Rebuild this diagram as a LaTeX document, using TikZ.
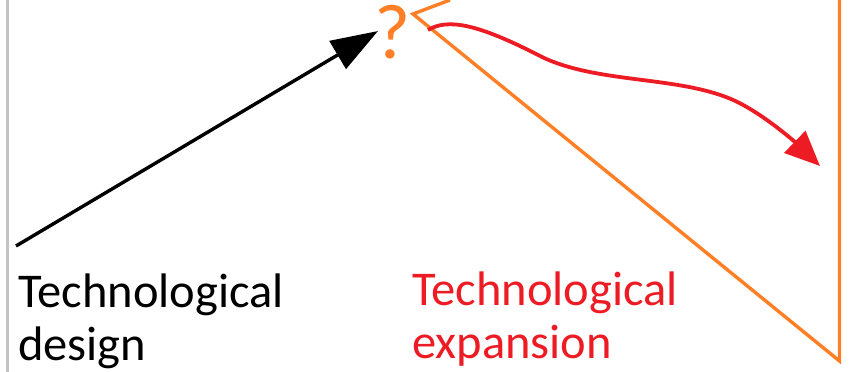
\documentclass[tikz,border=0pt]{standalone}
\usepackage{fontspec}
\setmainfont{Carlito}
\usetikzlibrary{arrows.meta}

\definecolor{paintorange}{RGB}{255,127,39}
\definecolor{paintred}{RGB}{237,28,36}
\definecolor{edgegray}{RGB}{195,195,195}

\tikzset{
  caption/.style={anchor=base west, inner sep=0pt, align=left,
    font=\fontsize{48.5}{53}\selectfont},
  wedge/.style={draw=paintorange, line width=3.4pt, line join=miter},
  design arrow/.style={draw=black, line width=3.4pt,
    -{Triangle[length=47pt, width=32pt]}},
  expansion arrow/.style={draw=paintred, line width=3.8pt,
    -{Triangle[length=35pt, width=30pt]}},
}

\begin{document}
\begin{tikzpicture}[x=1pt, y=-1pt]
  \useasboundingbox (0,0) rectangle (862,372);

  % left margin rule
  \draw[edgegray, line width=3pt] (7.5,0) -- (7.5,372);

  % orange wedge opening to the right
  \coordinate (apex) at (413,14);
  \coordinate (wtop) at (450,0);
  \coordinate (wbot) at (839.5,361);
  \coordinate (wright) at (839.5,0);
  \draw[wedge] (wtop) -- (apex) -- (wbot) -- (wright);

  % question mark at the apex
  \node[text=paintorange, anchor=base, inner sep=0pt,
        font=\fontsize{78}{80}\selectfont] (q) at (393,58) {?};

  % design arrow rising to the question mark
  \coordinate (ds) at (16,246);
  \coordinate (dt) at (378,31);
  \draw[design arrow] (ds) -- (dt);

  % expansion arrow leaving the apex
  \coordinate (es) at (428,30);
  \coordinate (et) at (820,166);
  \draw[expansion arrow] (es)
    .. controls (448,18) and (478,24) .. (540,56)
    .. controls (600,86) and (690,74) .. (745,106)
    .. controls (770,120) and (795,142) .. (et);

  % captions (anchored on the baseline of their last line)
  \node[caption, text=black] (design) at (18,360) {Technological\\design};
  \node[caption, text=paintred] (expansion) at (412,358) {Technological\\expansion};
\end{tikzpicture}
\end{document}
